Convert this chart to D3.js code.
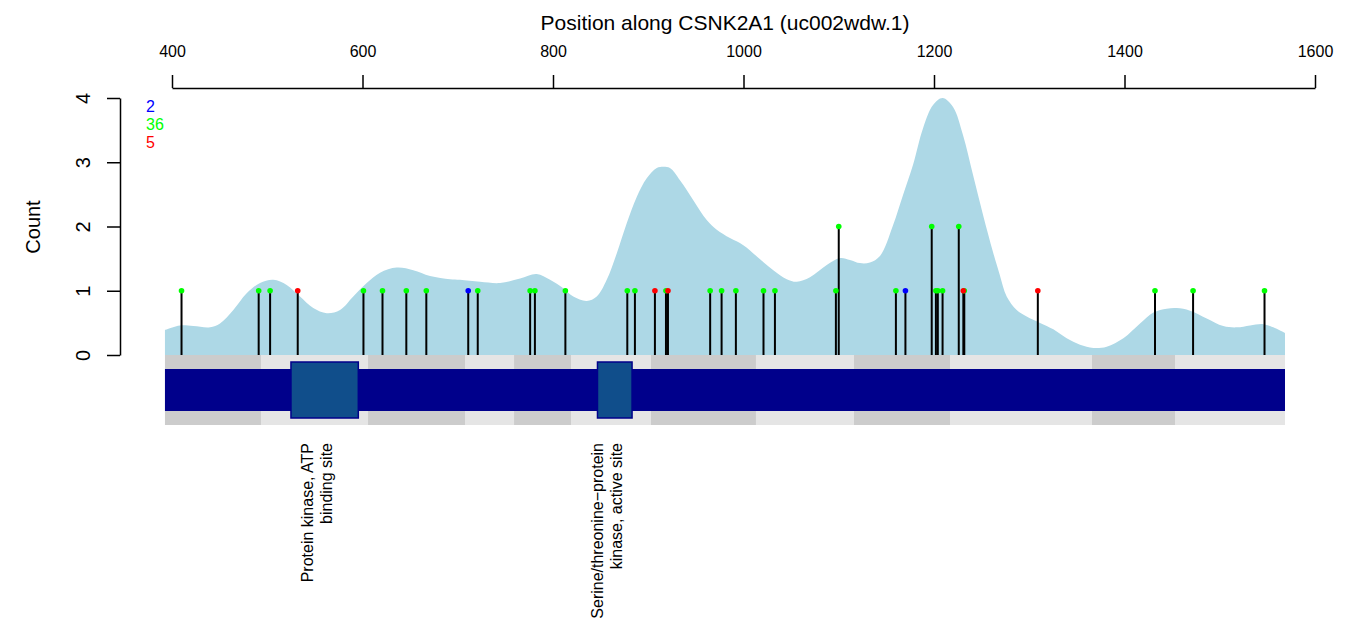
<!DOCTYPE html>
<html><head><meta charset="utf-8">
<script src="https://cdn.jsdelivr.net/npm/d3@7"></script>
<style>body{margin:0;background:#fff}svg{display:block;font-family:"Liberation Sans",Arial,sans-serif}</style>
</head><body><svg id="c" width="1358" height="627"></svg>
<script>
// ---- data ----
const densityPos = [392.6,408.4,422.4,439.9,450.4,464.4,478.4,492.4,506.4,520.4,534.4,548.3,562.4,576.4,590.3,604.4,618.4,635.9,653.3,670.9,691.9,702.4,723.4,744.4,765.4,782.9,796.9,810.8,821.3,835.4,845.9,856.4,866.9,877.4,887.9,898.4,908.9,915.8,922.8,933.3,947.3,961.4,971.9,985.8,999.8,1017.4,1031.3,1045.4,1055.9,1069.8,1087.4,1101.3,1111.8,1122.3,1132.8,1143.3,1157,1167.5,1178,1188.5,1199,1209,1220,1230.5,1241,1251.5,1262,1269,1276.3,1286.8,1297.3,1311.3,1325.3,1339.3,1353.3,1367.3,1381.3,1398.8,1416.3,1430.3,1444.3,1454.8,1468.8,1486.3,1503.7,1517.8,1531.8,1545.7,1556.2,1568.5];
const densityVal = [0.39,0.46,0.45,0.43,0.49,0.70,0.96,1.12,1.17,1.09,0.91,0.73,0.65,0.70,0.91,1.12,1.28,1.36,1.32,1.23,1.18,1.17,1.14,1.12,1.19,1.26,1.17,1.04,0.91,0.84,0.91,1.17,1.58,2.05,2.46,2.75,2.91,2.93,2.91,2.72,2.41,2.10,1.95,1.82,1.71,1.49,1.32,1.18,1.14,1.21,1.40,1.51,1.48,1.43,1.44,1.54,2.02,2.49,2.96,3.53,3.89,4.0,3.86,3.42,2.80,2.18,1.60,1.25,0.91,0.70,0.60,0.50,0.40,0.26,0.16,0.11,0.13,0.26,0.49,0.66,0.72,0.73,0.69,0.57,0.45,0.43,0.46,0.48,0.43,0.34];

const mutPos   = [410,491,503,532,601,621,646,667,711,721,776,781,813,878,886,907,918.6,920.7,965,977,992,1021,1033,1097,1100,1160,1170,1197.6,1202,1204,1209,1226,1230.8,1231.8,1309,1432,1472,1547];
const mutCount = [1,1,1,1,1,1,1,1,1,1,1,1,1,1,1,1,1,1,1,1,1,1,1,1,2,1,1,2,1,1,1,2,1,1,1,1,1,1];
const mutClass = ["g","g","g","r","g","g","g","g","b","g","g","g","g","g","g","r","g","r","g","g","g","g","g","g","g","g","b","g","g","g","g","g","r","g","r","g","g","g"];

const exonBounds = [392.6,493.4,605.8,707.6,759.1,818.9,902.9,1013.1,1116.0,1216.8,1365.9,1453.0,1568.5];
const domainStart = [524.9,846.7];
const domainEnd   = [595.6,883.0];
const domainLabel = [["Protein kinase, ATP","binding site"],["Serine/threonine\u2212protein","kinase, active site"]];

const legendLabels = ["2","36","5"];
const legendClass  = ["b","g","r"];
const xTicks = [400,600,800,1000,1200,1400,1600];
const yTicks = [0,1,2,3,4];
const xTitle = "Position along CSNK2A1 (uc002wdw.1)";
const yTitle = "Count";

// ---- drawing ----
const colors = {g:"#00FF00", r:"#FF0000", b:"#0000FF"};
const FF = "Liberation Sans, Arial, sans-serif";
const svg = d3.select("#c");
const x = d3.scaleLinear().domain([400,1600]).range([172,1315]);
const y = d3.scaleLinear().domain([0,4]).range([355,98]);

// density
const dens = densityPos.map((p,i)=>[p,densityVal[i]]);
svg.append("path").datum(dens)
  .attr("fill","#ADD8E6")
  .attr("d", d3.area().x(d=>x(d[0])).y0(y(0)).y1(d=>y(d[1])).curve(d3.curveCatmullRom.alpha(0.5)));

// exon bands
const bands = d3.pairs(exonBounds).map((p,i)=>({s:p[0],e:p[1],i}));
svg.append("g").selectAll("rect").data(bands).join("rect")
  .attr("x",d=>x(d.s)).attr("width",d=>x(d.e)-x(d.s))
  .attr("y",355).attr("height",70)
  .attr("fill",d=>d.i%2===0?"#CCCCCC":"#E5E5E5");
// gene body
const g0 = exonBounds[0], g1 = exonBounds[exonBounds.length-1];
svg.append("rect").attr("x",x(g0)).attr("width",x(g1)-x(g0))
  .attr("y",369).attr("height",42).attr("fill","#00008B");
// domains
const doms = domainStart.map((s,i)=>({s,e:domainEnd[i],lab:domainLabel[i]}));
svg.append("g").selectAll("rect").data(doms).join("rect")
  .attr("x",d=>x(d.s)).attr("width",d=>x(d.e)-x(d.s))
  .attr("y",362).attr("height",56)
  .attr("fill","#104E8B").attr("stroke","#00008B").attr("stroke-width",1.5);
// domain labels
doms.forEach(d=>{
  const cx = (x(d.s)+x(d.e))/2 + 1.5;
  const g = svg.append("g").attr("transform",`translate(${cx},443) rotate(-90)`);
  d.lab.forEach((t,j)=>{
    g.append("text").attr("x",0).attr("y",(j-(d.lab.length-1))*19+5.5)
      .attr("text-anchor","end").attr("font-size",16).attr("fill","#000").text(t);
  });
});

// lollipops
const muts = mutPos.map((p,i)=>({p,c:mutCount[i],k:mutClass[i]}));
svg.append("g").selectAll("line").data(muts).join("line")
  .attr("x1",d=>x(d.p)).attr("x2",d=>x(d.p))
  .attr("y1",y(0)).attr("y2",d=>y(d.c))
  .attr("stroke","#000").attr("stroke-width",2);
const order = {g:0,b:1,r:2};
svg.append("g").selectAll("circle").data(muts.slice().sort((a,b)=>order[a.k]-order[b.k])).join("circle")
  .attr("cx",d=>x(d.p)).attr("cy",d=>y(d.c)).attr("r",2.8)
  .attr("fill",d=>colors[d.k]);

// top axis
const ax = svg.append("g").attr("transform","translate(0,88)")
  .call(d3.axisTop(x).tickValues(xTicks).tickSize(13).tickSizeOuter(0).tickPadding(18).tickFormat(d3.format("d")));
ax.select(".domain").attr("stroke","#000").attr("stroke-width",1.5);
ax.selectAll(".tick line").attr("stroke","#000").attr("stroke-width",1.5);
ax.selectAll("text").attr("font-size",16).attr("font-family",FF).attr("fill","#000");
svg.append("text").attr("x",(x(g0)+x(g1))/2).attr("y",30).attr("text-anchor","middle")
  .attr("font-size",21).text(xTitle);

// left axis
const ay = svg.append("g").attr("transform","translate(120,0)")
  .call(d3.axisLeft(y).tickValues(yTicks).tickSize(13).tickSizeOuter(0).tickFormat(d3.format("d")));
ay.select(".domain").attr("stroke","#000").attr("stroke-width",1.5);
ay.selectAll(".tick line").attr("stroke","#000").attr("stroke-width",1.5);
ay.selectAll(".tick text").attr("x",null).attr("dy",null)
  .attr("transform","translate(-37,0) rotate(-90)").attr("text-anchor","middle").attr("dy","0.36em")
  .attr("font-size",20).attr("font-family",FF).attr("fill","#000");
svg.append("text").attr("transform","translate(40,227) rotate(-90)").attr("text-anchor","middle")
  .attr("font-size",20).text(yTitle);

// legend
svg.append("g").selectAll("text").data(legendLabels).join("text")
  .attr("x",146).attr("y",(d,i)=>111.5+i*18)
  .attr("font-size",16).attr("fill",(d,i)=>colors[legendClass[i]]).text(d=>d);
</script></body></html>
